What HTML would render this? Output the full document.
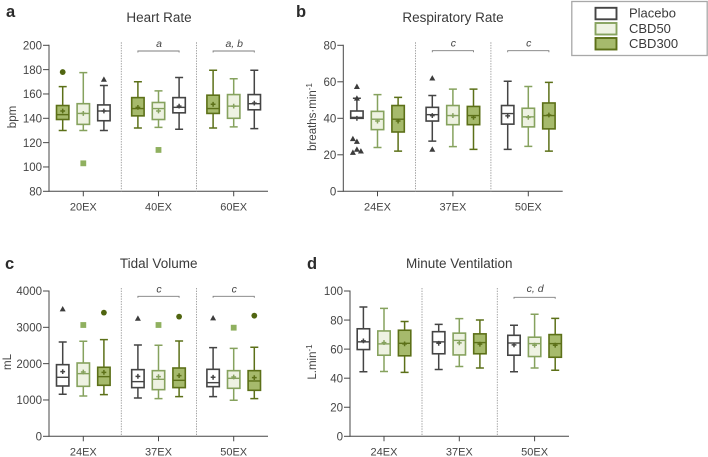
<!DOCTYPE html>
<html lang="en">
<head>
<meta charset="utf-8">
<title>Cardiorespiratory box plots</title>
<style>
html,body{margin:0;padding:0;background:#fff;width:708px;height:457px;overflow:hidden}
svg{display:block;font-family:"Liberation Sans",sans-serif}
.panel-title{font-size:13.5px;fill:#3a3a3a;text-anchor:middle}
.panel-letter{font-size:16.5px;font-weight:bold;fill:#2b2b2b}
.y-title{font-size:11.5px;fill:#444;text-anchor:middle}
.legend-text{font-size:13px;fill:#3a3a3a}
</style>
</head>
<body>
<svg id="chart" xmlns="http://www.w3.org/2000/svg" width="708" height="457" viewBox="0 0 708 457">
  <text class="panel-letter" x="6" y="17">a</text>
  <text class="panel-letter" x="296" y="17">b</text>
  <text class="panel-letter" x="5" y="269">c</text>
  <text class="panel-letter" x="307" y="269">d</text>

  <text class="panel-title" x="159" y="22">Heart Rate</text>
  <text class="panel-title" x="453" y="22">Respiratory Rate</text>
  <text class="panel-title" x="158.7" y="268">Tidal Volume</text>
  <text class="panel-title" x="459.3" y="268">Minute Ventilation</text>

  <text class="y-title" transform="translate(16 117) rotate(-90)">bpm</text>
  <text class="y-title" transform="translate(316 117) rotate(-90)">breaths·min<tspan font-size="8" dy="-4">-1</tspan></text>
  <text class="y-title" transform="translate(11 362) rotate(-90)">mL</text>
  <text class="y-title" transform="translate(316 362) rotate(-90)">L.min<tspan font-size="8" dy="-4">-1</tspan></text>

  <g>
    <rect x="571.8" y="1.5" width="135.4" height="54" fill="#fff" stroke="#a8a8a8" stroke-width="1.3"/>
    <rect x="595.5" y="7.8" width="21" height="11.5" fill="#fff" stroke="#444" stroke-width="1.9"/>
    <text class="legend-text" x="629" y="17.5">Placebo</text>
    <rect x="595.5" y="23" width="21" height="11.5" fill="#eef2e2" stroke="#86a25e" stroke-width="1.9"/>
    <text class="legend-text" x="629" y="33">CBD50</text>
    <rect x="595.5" y="38" width="21" height="11.5" fill="#a6ba6c" stroke="#5c7018" stroke-width="1.9"/>
    <text class="legend-text" x="629" y="48">CBD300</text>
  </g>
</svg>
<script>
/* ---------- Heart rate ---------- */
const hrGroups = ['20EX', '40EX', '60EX'];
const hrSeries = ['CBD300', 'CBD50', 'Placebo'];
const hrTicks = [80, 100, 120, 140, 160, 180, 200];
const hrLow = [[130, 130, 130], [132, 132.5, 131], [132, 133, 131.5]];
const hrQ1 = [[139, 135, 138], [142, 139, 144.5], [144, 140, 147]];
const hrMedian = [[143, 144, 146], [148, 148, 149], [148, 150, 152]];
const hrQ3 = [[150.5, 152, 151], [157, 153, 157], [159, 159.5, 159.5]];
const hrHigh = [[166, 177.5, 167], [170, 162.5, 173.5], [179.5, 172.5, 179.5]];
const hrMean = [[146, 144, 146], [149, 146, 150], [151.5, 150, 152.5]];
const hrOutliers = [[[178], [103], [172]], [[], [114], []], [[], [], []]];
const hrNotes = ['', 'a', 'a, b'];

/* ---------- Respiratory rate ---------- */
const rrGroups = ['24EX', '37EX', '50EX'];
const rrSeries = ['Placebo', 'CBD50', 'CBD300'];
const rrTicks = [0, 20, 40, 60, 80];
const rrLow = [[40, 24, 22], [27.5, 24.5, 23], [23, 24.6, 22]];
const rrQ1 = [[40, 33.8, 32.5], [38.5, 36.5, 36.5], [36.8, 35.3, 34.2]];
const rrMedian = [[40.5, 39.5, 39.5], [42, 41.5, 41.5], [42.6, 40.8, 41.5]];
const rrQ3 = [[44, 43.8, 47], [46, 47, 46.5], [47, 45.5, 48.4]];
const rrHigh = [[51, 53, 51.5], [52.5, 56, 56], [60.3, 57.4, 59.7]];
const rrMean = [[40, 38.5, 38.5], [41.5, 41.5, 40.5], [41.3, 40.5, 41.8]];
const rrOutliers = [[[57.4, 51, 27.3, 28.8, 23, 21.3, 22], [], []], [[62, 23], [], []], [[], [], []]];
const rrNotes = ['', 'c', 'c'];

/* ---------- Tidal volume ---------- */
const tvGroups = ['24EX', '37EX', '50EX'];
const tvSeries = ['Placebo', 'CBD50', 'CBD300'];
const tvTicks = [0, 1000, 2000, 3000, 4000];
const tvLow = [[1156, 1110, 1147], [1055, 1037, 1092], [1092, 991, 1037]];
const tvQ1 = [[1385, 1376, 1404], [1340, 1284, 1340], [1367, 1321, 1266]];
const tvMedian = [[1624, 1725, 1642], [1505, 1569, 1541], [1477, 1596, 1523]];
const tvQ3 = [[1972, 2018, 1900], [1835, 1807, 1880], [1844, 1807, 1807]];
const tvHigh = [[2596, 2615, 2660], [2514, 2505, 2624], [2440, 2422, 2450]];
const tvMean = [[1780, 1770, 1761], [1651, 1642, 1670], [1624, 1633, 1615]];
const tvOutliers = [[[3505], [3064], [3404]], [[3248], [3064], [3294]], [[3257], [2990], [3321]]];
const tvNotes = ['', 'c', 'c'];

/* ---------- Minute ventilation ---------- */
const mvGroups = ['24EX', '37EX', '50EX'];
const mvSeries = ['Placebo', 'CBD50', 'CBD300'];
const mvTicks = [0, 20, 40, 60, 80, 100];
const mvLow = [[44.4, 44.6, 44], [46, 48, 47], [44.4, 47, 45.5]];
const mvQ1 = [[59.7, 55.8, 55.4], [56.8, 56, 56.8], [55.8, 54.9, 54.4]];
const mvMedian = [[65, 63.6, 64], [65, 66, 64.5], [64.2, 63.8, 63.8]];
const mvQ3 = [[74, 72.5, 73], [72, 71, 70.5], [69.5, 68.2, 70]];
const mvHigh = [[89, 88, 79], [77, 81, 80], [76.4, 84, 81.2]];
const mvMean = [[65.7, 64.5, 63.6], [64, 64.3, 63.4], [62.9, 62.7, 62.7]];
const mvOutliers = [[[], [], []], [[], [], []], [[], [], []]];
const mvNotes = ['', '', 'c, d'];

const NS = 'http://www.w3.org/2000/svg';
const chart = document.getElementById('chart');

function strokeFor(name) {
  if (name === 'Placebo') return '#444444';
  if (name === 'CBD50') return '#86a25e';
  return '#5c7018';
}
function fillFor(name) {
  if (name === 'Placebo') return '#ffffff';
  if (name === 'CBD50') return '#eef2e2';
  return '#a6ba6c';
}
function make(parent, tag, props, text) {
  const node = document.createElementNS(NS, tag);
  Object.keys(props).forEach(function (k) { node.setAttribute(k, props[k]); });
  if (text !== undefined) node.textContent = text;
  parent.appendChild(node);
  return node;
}
function slug(s) {
  return String(s).toLowerCase().replace(/[^a-z0-9]+/g, '-');
}

function drawPanel(d) {
  const yScale = function (v) {
    return d.yBottom - (v - d.ticks[0]) / (d.ticks[d.ticks.length - 1] - d.ticks[0]) * (d.yBottom - d.yTop);
  };
  const xGroup = function (g) { return d.xFirst + g * d.step; };
  const xBox = function (g, s) { return xGroup(g) + (s - 1) * 20.6; };
  const axisColor = '#474747';

  const panel = make(chart, 'g', {});
  
  

  const yAxis = make(panel, 'line', { x1: d.xAxis, x2: d.xAxis, y1: d.yTop - 0.5, y2: d.yBottom + 0.5, stroke: axisColor, 'stroke-width': 1 });
  
  
  const xAxis = make(panel, 'line', { x1: d.xAxis, x2: d.xEnd, y1: d.yBottom, y2: d.yBottom, stroke: axisColor, 'stroke-width': 1 });
  
  

  d.ticks.forEach(function (t) {
    const y = yScale(t);
    const tick = make(panel, 'line', { x1: d.xAxis - 6, x2: d.xAxis, y1: y, y2: y, stroke: axisColor, 'stroke-width': 1 });
    
    
    const label = make(panel, 'text', { x: d.xAxis - 7, y: y + 4.2, 'text-anchor': 'end', 'font-size': 11.5, fill: '#444' }, t);
    
    
  });

  d.groups.forEach(function (name, g) {
    const x = xGroup(g);
    const tick = make(panel, 'line', { x1: x, x2: x, y1: d.yBottom, y2: d.yBottom + 5, stroke: axisColor, 'stroke-width': 1 });
    
    
    const label = make(panel, 'text', { x: x, y: d.yBottom + 19, 'text-anchor': 'middle', 'font-size': 11, fill: '#444' }, name);
    
    

    if (g < d.groups.length - 1) {
      const divider = make(panel, 'line', { x1: x + 38, x2: x + 38, y1: d.yTop - 3, y2: d.yBottom, stroke: '#9a9a9a', 'stroke-width': 0.9, 'stroke-dasharray': '1.4 1.2' });
      
      
    }

    if (d.notes[g]) {
      const by = d.bracketY;
      const bracket = make(panel, 'path', { d: 'M' + (x - 20.6) + ' ' + (by + 1.5) + 'V' + by + 'H' + (x + 20.6) + 'V' + (by + 1.5), fill: 'none', stroke: '#7d7d7d', 'stroke-width': 0.9 });
      
      
      const note = make(panel, 'text', { x: x + 0.5, y: by - d.noteGap, 'text-anchor': 'middle', 'font-size': 10.5, 'font-style': 'italic', fill: '#444' }, d.notes[g]);
      
      
    }

    d.series.forEach(function (sName, s) {
      const cx = xBox(g, s);
      const color = strokeFor(sName);
      const boxGroup = make(panel, 'g', {});
      
      

      const yLow = yScale(d.low[g][s]);
      const yHigh = yScale(d.high[g][s]);
      const yQ1 = yScale(d.q1[g][s]);
      const yQ3 = yScale(d.q3[g][s]);
      const yMed = yScale(d.median[g][s]);
      const yMean = yScale(d.mean[g][s]);

      const whisker = make(boxGroup, 'path', {
        d: 'M' + cx + ' ' + yLow + 'V' + yHigh +
           'M' + (cx - 4) + ' ' + yLow + 'H' + (cx + 4) +
           'M' + (cx - 4) + ' ' + yHigh + 'H' + (cx + 4),
        fill: 'none', stroke: color, 'stroke-width': 1.5
      });
      
      

      const rect = make(boxGroup, 'rect', { x: cx - 6.2, y: yQ3, width: 12.4, height: Math.max(yQ1 - yQ3, 0.5), fill: fillFor(sName), stroke: color, 'stroke-width': 1.6 });
      
      

      const med = make(boxGroup, 'line', { x1: cx - 6.2, x2: cx + 6.2, y1: yMed, y2: yMed, stroke: color, 'stroke-width': 1.4 });
      
      

      const plus = make(boxGroup, 'path', {
        d: 'M' + (cx - 2.4) + ' ' + yMean + 'H' + (cx + 2.4) + 'M' + cx + ' ' + (yMean - 2.4) + 'V' + (yMean + 2.4),
        fill: 'none', stroke: color, 'stroke-width': 1.5
      });
      
      

      const placed = [];
      d.outliers[g][s].forEach(function (v) {
        const oy = yScale(v);
        const slots = [0, -4, 4];
        let off = 0;
        for (let i = 0; i < slots.length; i++) {
          const busy = placed.some(function (p) { return p.off === slots[i] && Math.abs(p.y - oy) < 6; });
          if (!busy) { off = slots[i]; break; }
        }
        placed.push({ off: off, y: oy });
        const ox = cx + off;
        let dot;
        if (sName === 'Placebo') {
          dot = make(boxGroup, 'path', { d: 'M' + ox + ' ' + (oy - 3) + 'L' + (ox + 3) + ' ' + (oy + 2.4) + 'H' + (ox - 3) + 'Z', fill: '#3c3c3c' });
        } else if (sName === 'CBD50') {
          dot = make(boxGroup, 'rect', { x: ox - 2.9, y: oy - 2.9, width: 5.8, height: 5.8, fill: '#8fb05f' });
        } else {
          dot = make(boxGroup, 'circle', { cx: ox, cy: oy, r: 2.9, fill: '#506510' });
        }
        
        
      });
    });
  });
}

drawPanel({ id: 'heart-rate', groups: hrGroups, series: hrSeries, ticks: hrTicks, low: hrLow, q1: hrQ1, median: hrMedian, q3: hrQ3, high: hrHigh, mean: hrMean, outliers: hrOutliers, notes: hrNotes,
  xAxis: 49, xEnd: 268, xFirst: 83.3, step: 75.2, yTop: 45.3, yBottom: 191.3, bracketY: 51, noteGap: 4 });
drawPanel({ id: 'respiratory-rate', groups: rrGroups, series: rrSeries, ticks: rrTicks, low: rrLow, q1: rrQ1, median: rrMedian, q3: rrQ3, high: rrHigh, mean: rrMean, outliers: rrOutliers, notes: rrNotes,
  xAxis: 343.3, xEnd: 562.7, xFirst: 377.5, step: 75.4, yTop: 45.3, yBottom: 191.3, bracketY: 50.7, noteGap: 4 });
drawPanel({ id: 'tidal-volume', groups: tvGroups, series: tvSeries, ticks: tvTicks, low: tvLow, q1: tvQ1, median: tvMedian, q3: tvQ3, high: tvHigh, mean: tvMean, outliers: tvOutliers, notes: tvNotes,
  xAxis: 49, xEnd: 268, xFirst: 83.3, step: 75.2, yTop: 291, yBottom: 436.3, bracketY: 296.3, noteGap: 4 });
drawPanel({ id: 'minute-ventilation', groups: mvGroups, series: mvSeries, ticks: mvTicks, low: mvLow, q1: mvQ1, median: mvMedian, q3: mvQ3, high: mvHigh, mean: mvMean, outliers: mvOutliers, notes: mvNotes,
  xAxis: 350, xEnd: 569, xFirst: 384, step: 75.3, yTop: 291, yBottom: 436.3, bracketY: 297.3, noteGap: 5.5 });
</script>
</body>
</html>
